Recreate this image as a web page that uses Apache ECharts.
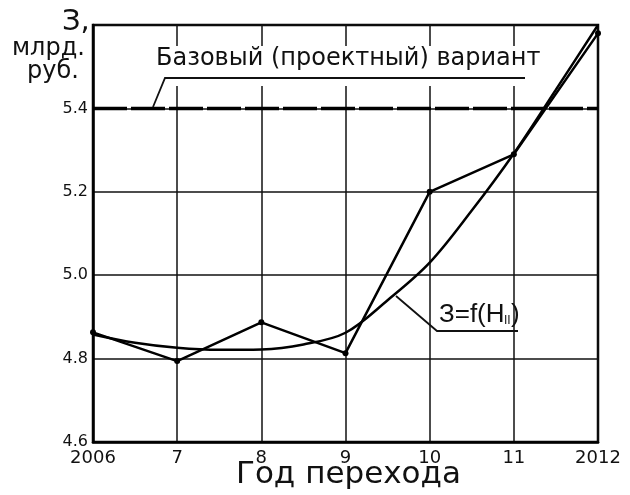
<!DOCTYPE html>
<html><head><meta charset="utf-8">
<script src="https://cdn.jsdelivr.net/npm/echarts@6/dist/echarts.min.js"></script>
<style>html,body{margin:0;padding:0;background:#fff}#c{width:630px;height:495px}</style>
</head><body><div id="c"></div>
<script>
// ---- data ----
var years = [2006, 2007, 2008, 2009, 2010, 2011, 2012];
var actualValues = [4.863, 4.794, 4.887, 4.813, 5.2, 5.29, 5.58];
var curveYears = [2006, 2006.5, 2007, 2007.5, 2008, 2008.5, 2009, 2009.5, 2010, 2010.5, 2011, 2011.5, 2012];
var curveValues = [4.858, 4.838, 4.826, 4.821, 4.822, 4.834, 4.862, 4.94, 5.03, 5.155, 5.292, 5.445, 5.6];
var baseValue = 5.4;
var xTickLabels = ['2006', '7', '8', '9', '10', '11', '2012'];
var yTickLabels = ['4.6', '4.8', '5.0', '5.2', '5.4', ''];
var baseLabel = 'Базовый (проектный) вариант';
var curveLabel = 'З=f(H';
var curveSub = 'II';
var xTitle = 'Год перехода';

var FONT = 'DejaVu Sans';
var chart = echarts.init(document.getElementById('c'));
var actualData = years.map(function (y, i) { return [y, actualValues[i]]; });
var curveData = curveYears.map(function (y, i) { return [y, curveValues[i]]; });
var baseData = [[years[0], baseValue], [years[years.length - 1], baseValue]];

chart.setOption({
  animation: false,
  backgroundColor: '#fff',
  grid: { left: 93, right: 32, top: 25, bottom: 53, show: true, borderColor: '#000', borderWidth: 2.5, backgroundColor: 'transparent' },
  xAxis: {
    type: 'value', min: 2006, max: 2012, interval: 1,
    axisLine: { show: true, lineStyle: { color: '#000', width: 2.5 } },
    axisTick: { show: false },
    splitLine: { show: true, lineStyle: { color: '#111', width: 1.5 } },
    axisLabel: { color: '#111', fontFamily: FONT, fontSize: 18, margin: 7,
      formatter: function (v) { var i = Math.round(v - 2006); return xTickLabels[i] || ''; } }
  },
  yAxis: {
    type: 'value', min: 4.6, max: 5.6, interval: 0.2,
    axisLine: { show: true, lineStyle: { color: '#000', width: 2.5 } },
    axisTick: { show: false },
    splitLine: { show: true, lineStyle: { color: '#111', width: 1.5 } },
    axisLabel: { color: '#111', fontFamily: FONT, fontSize: 16, margin: 5,
      formatter: function (v) { var i = Math.round((v - 4.6) / 0.2); return yTickLabels[i] || ''; } }
  },
  series: [
    { type: 'line', data: baseData, symbol: 'none', z: 3,
      lineStyle: { color: '#000', width: 3.5, type: [34, 4] } },
    { type: 'line', data: curveData, smooth: 0.35, symbol: 'none', z: 4,
      lineStyle: { color: '#000', width: 2.5 } },
    { type: 'line', data: actualData, symbol: 'circle', symbolSize: 6, z: 5,
      itemStyle: { color: '#000' }, lineStyle: { color: '#000', width: 2.5 } }
  ],
  graphic: [
    { type: 'rect', z: 1, shape: { x: 148, y: 46, width: 410, height: 40 }, style: { fill: '#fff' } },
    { type: 'text', z: 10, left: 156, top: 47, style: { text: baseLabel, font: '24px ' + FONT, fill: '#111' } },
    { type: 'polyline', z: 10, shape: { points: [[153, 107], [165, 78], [525, 78]] }, style: { stroke: '#111', lineWidth: 1.8, fill: null } },
    { type: 'polyline', z: 10, shape: { points: [[396, 296], [437, 331], [518, 331]] }, style: { stroke: '#111', lineWidth: 1.8, fill: null } },
    { type: 'text', z: 10, left: 439, top: 302, style: { text: curveLabel, font: '26px "Liberation Sans"', fill: '#111' } },
    { type: 'text', z: 10, left: 504, top: 315, style: { text: curveSub, font: '12px "Liberation Sans"', fill: '#111' } },
    { type: 'text', z: 10, left: 511, top: 302, style: { text: ')', font: '26px "Liberation Sans"', fill: '#111' } },
    { type: 'text', z: 10, left: 62, top: 8, style: { text: 'З,', font: '29px ' + FONT, fill: '#111' } },
    { type: 'text', z: 10, left: 12, top: 37, style: { text: 'млрд.', font: '24px ' + FONT, fill: '#111' } },
    { type: 'text', z: 10, left: 27, top: 60, style: { text: 'руб.', font: '24px ' + FONT, fill: '#111' } },
    { type: 'text', z: 10, left: 236, top: 459, style: { text: xTitle, font: '31px ' + FONT, fill: '#111' } }
  ]
});
</script></body></html>
